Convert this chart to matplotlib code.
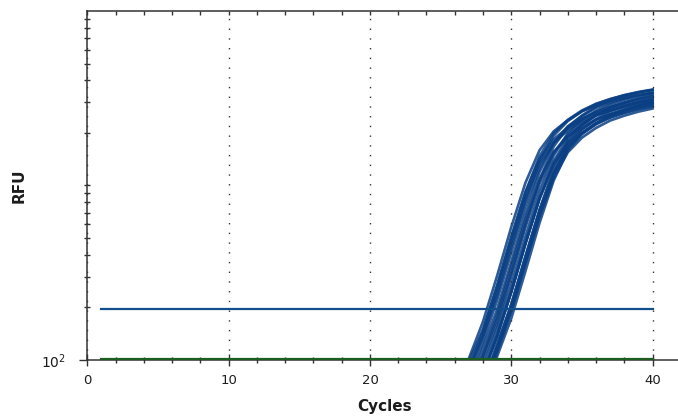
import matplotlib
matplotlib.use("Agg")
import matplotlib.pyplot as plt
from matplotlib.ticker import FixedLocator, NullFormatter

plt.rcParams['font.family'] = ['DejaVu Sans']

# Amplification data (RFU per cycle), one list per well, cycles 24..40
cycles = list(range(24, 41))

well_a = [19.7, 35.1, 63.0, 102, 166, 304, 578, 1035, 1592, 2042, 2366, 2661, 2864, 3038, 3184, 3300, 3396]
well_b = [16.1, 28.7, 49.3, 89.0, 137, 247, 468, 846, 1334, 1758, 2065, 2331, 2527, 2685, 2818, 2926, 3013]
well_c = [17.4, 30.9, 53.5, 98.0, 150, 264, 499, 912, 1472, 1995, 2377, 2692, 2938, 3126, 3289, 3420, 3524]
well_d = [14.5, 25.9, 45.0, 76.5, 127, 220, 413, 763, 1262, 1758, 2123, 2413, 2652, 2827, 2979, 3103, 3202]
well_e = [12.2, 21.6, 37.9, 64.4, 108, 182, 342, 638, 1081, 1549, 1897, 2163, 2393, 2556, 2698, 2815, 2908]
well_f = [13.1, 23.3, 41.2, 69.9, 118, 195, 365, 688, 1194, 1758, 2183, 2498, 2783, 2977, 3148, 3291, 3402]
well_g = [11.0, 19.5, 34.7, 58.9, 100, 162, 302, 575, 1023, 1549, 1950, 2239, 2512, 2692, 2851, 2985, 3090]
well_h = [11.5, 20.5, 36.5, 62.4, 106, 173, 316, 600, 1078, 1671, 2163, 2518, 2835, 3059, 3245, 3404, 3530]
well_i = [9.0, 16.0, 28.5, 49.1, 83.4, 137, 245, 463, 841, 1337, 1778, 2099, 2371, 2576, 2738, 2877, 2989]
well_j = [9.1, 16.1, 28.7, 49.7, 84.4, 140, 245, 461, 846, 1377, 1884, 2254, 2556, 2796, 2977, 3133, 3260]
well_k = [7.1, 12.6, 22.4, 39.1, 66.4, 111, 190, 356, 661, 1102, 1549, 1879, 2138, 2355, 2512, 2649, 2761]
well_l = [7.8, 13.9, 24.7, 43.4, 73.7, 124, 208, 389, 729, 1245, 1799, 2213, 2527, 2803, 2994, 3162, 3302]
well_m = [6.5, 11.6, 20.7, 36.6, 62.1, 105, 173, 322, 610, 1067, 1585, 1977, 2265, 2529, 2707, 2864, 2996]
well_n = [7.2, 12.9, 22.9, 40.4, 68.5, 115, 192, 360, 676, 1164, 1698, 2099, 2399, 2667, 2851, 3013, 3148]
well_o = [7.4, 13.1, 23.3, 40.8, 69.3, 116, 197, 370, 688, 1156, 1641, 2000, 2278, 2515, 2685, 2831, 2953]
well_p = [17.5, 31.1, 53.2, 90.3, 147, 269, 511, 917, 1422, 1841, 2143, 2413, 2603, 2762, 2897, 3004, 3093]
well_q = [7.8, 13.8, 24.5, 42.7, 72.4, 120, 209, 394, 724, 1189, 1641, 1972, 2239, 2455, 2616, 2754, 2868]
well_r = [9.0, 16.0, 28.5, 48.9, 83.0, 136, 246, 467, 841, 1315, 1718, 2009, 2265, 2449, 2600, 2729, 2831]
well_s = [15.7, 27.9, 48.6, 82.6, 138, 236, 444, 822, 1371, 1928, 2339, 2661, 2931, 3126, 3296, 3436, 3546]
well_t = [9.9, 17.7, 31.4, 54.3, 92.2, 152, 270, 509, 928, 1486, 1995, 2366, 2676, 2914, 3099, 3258, 3388]

wells = [well_a, well_b, well_c, well_d, well_e, well_f, well_g, well_h, well_i, well_j,
         well_k, well_l, well_m, well_n, well_o, well_p, well_q, well_r, well_s, well_t]

# Threshold and negative-control trace
run_cycles = list(range(1, 41))
threshold = 197
ntc = [101.5] * 40

fig = plt.figure(figsize=(6.78, 4.18), dpi=100)
ax = fig.add_axes([0.1288, 0.1388, 0.8754, 0.8349])

for w in wells:
  ax.plot(cycles, w, color="#0a3f84", lw=1.9, alpha=0.85, zorder=2, solid_joinstyle="round")

ax.plot([run_cycles[0], run_cycles[-1]], [threshold, threshold], color="#124e8c", lw=1.6, zorder=3)
ax.plot(run_cycles, ntc, color="#1b5e20", lw=1.6, zorder=4)

ax.set_yscale("log")
ax.set_xlim(0, 42)
ax.set_ylim(100, 10000)

# x ticks
ax.xaxis.set_major_locator(FixedLocator([0, 10, 20, 30, 40]))
ax.xaxis.set_minor_locator(FixedLocator([2, 4, 6, 8, 12, 14, 16, 18, 22, 24, 26, 28, 32, 34, 36, 38]))
ax.tick_params(axis="x", which="major", direction="inout", length=8.6, width=1.0,
               pad=5.5, labelsize=9.5, labelcolor="#1c1c1c", color="#333333",
               top=True)
ax.tick_params(axis="x", which="minor", direction="inout", length=5, width=1.0,
               color="#333333", top=True)

# y ticks
ax.yaxis.set_major_locator(FixedLocator([100]))
ax.yaxis.set_minor_locator(FixedLocator([200, 300, 400, 500, 600, 700, 800, 900,
                                         1000, 2000, 3000, 4000, 5000, 6000, 7000, 8000, 9000]))
ax.yaxis.set_minor_formatter(NullFormatter())
ax.set_yticklabels([r"$\mathregular{10^{2}}$"])
ax.tick_params(axis="y", which="major", direction="out", length=5.5, width=1.0,
               pad=10, labelsize=10, labelcolor="#1c1c1c", color="#333333")
ax.tick_params(axis="y", which="minor", direction="inout", length=4.3, width=1.0,
               color="#333333", right=True)

# top / right ticks drawn inward
ax.xaxis.set_tick_params(which="both", top=True)
ax.yaxis.set_tick_params(which="both", right=True)
for t in ax.xaxis.get_major_ticks() + ax.xaxis.get_minor_ticks():
  t.tick2line.set_marker(3)
  t.tick2line.set_markersize(3)
for t in ax.yaxis.get_major_ticks() + ax.yaxis.get_minor_ticks():
  t.tick2line.set_marker(1)
  t.tick2line.set_markersize(3)

for s in ax.spines.values():
  s.set_color("#333333")
  s.set_linewidth(1.1)

ax.grid(axis="x", which="major", color="#333333", lw=1.0, linestyle=(0, (1, 6)))
ax.set_axisbelow(False)

ax.set_xlabel("Cycles", fontsize=11, fontweight="bold", color="#1c1c1c")
ax.xaxis.set_label_coords(0.5, -0.134)
ax.xaxis.label.set_va("center")
ax.set_ylabel("RFU", fontsize=11, fontweight="bold", color="#1c1c1c")
ax.yaxis.set_label_coords(-0.115, 0.5)
ax.yaxis.label.set_va("center")

fig.savefig("out.png", dpi=100)
